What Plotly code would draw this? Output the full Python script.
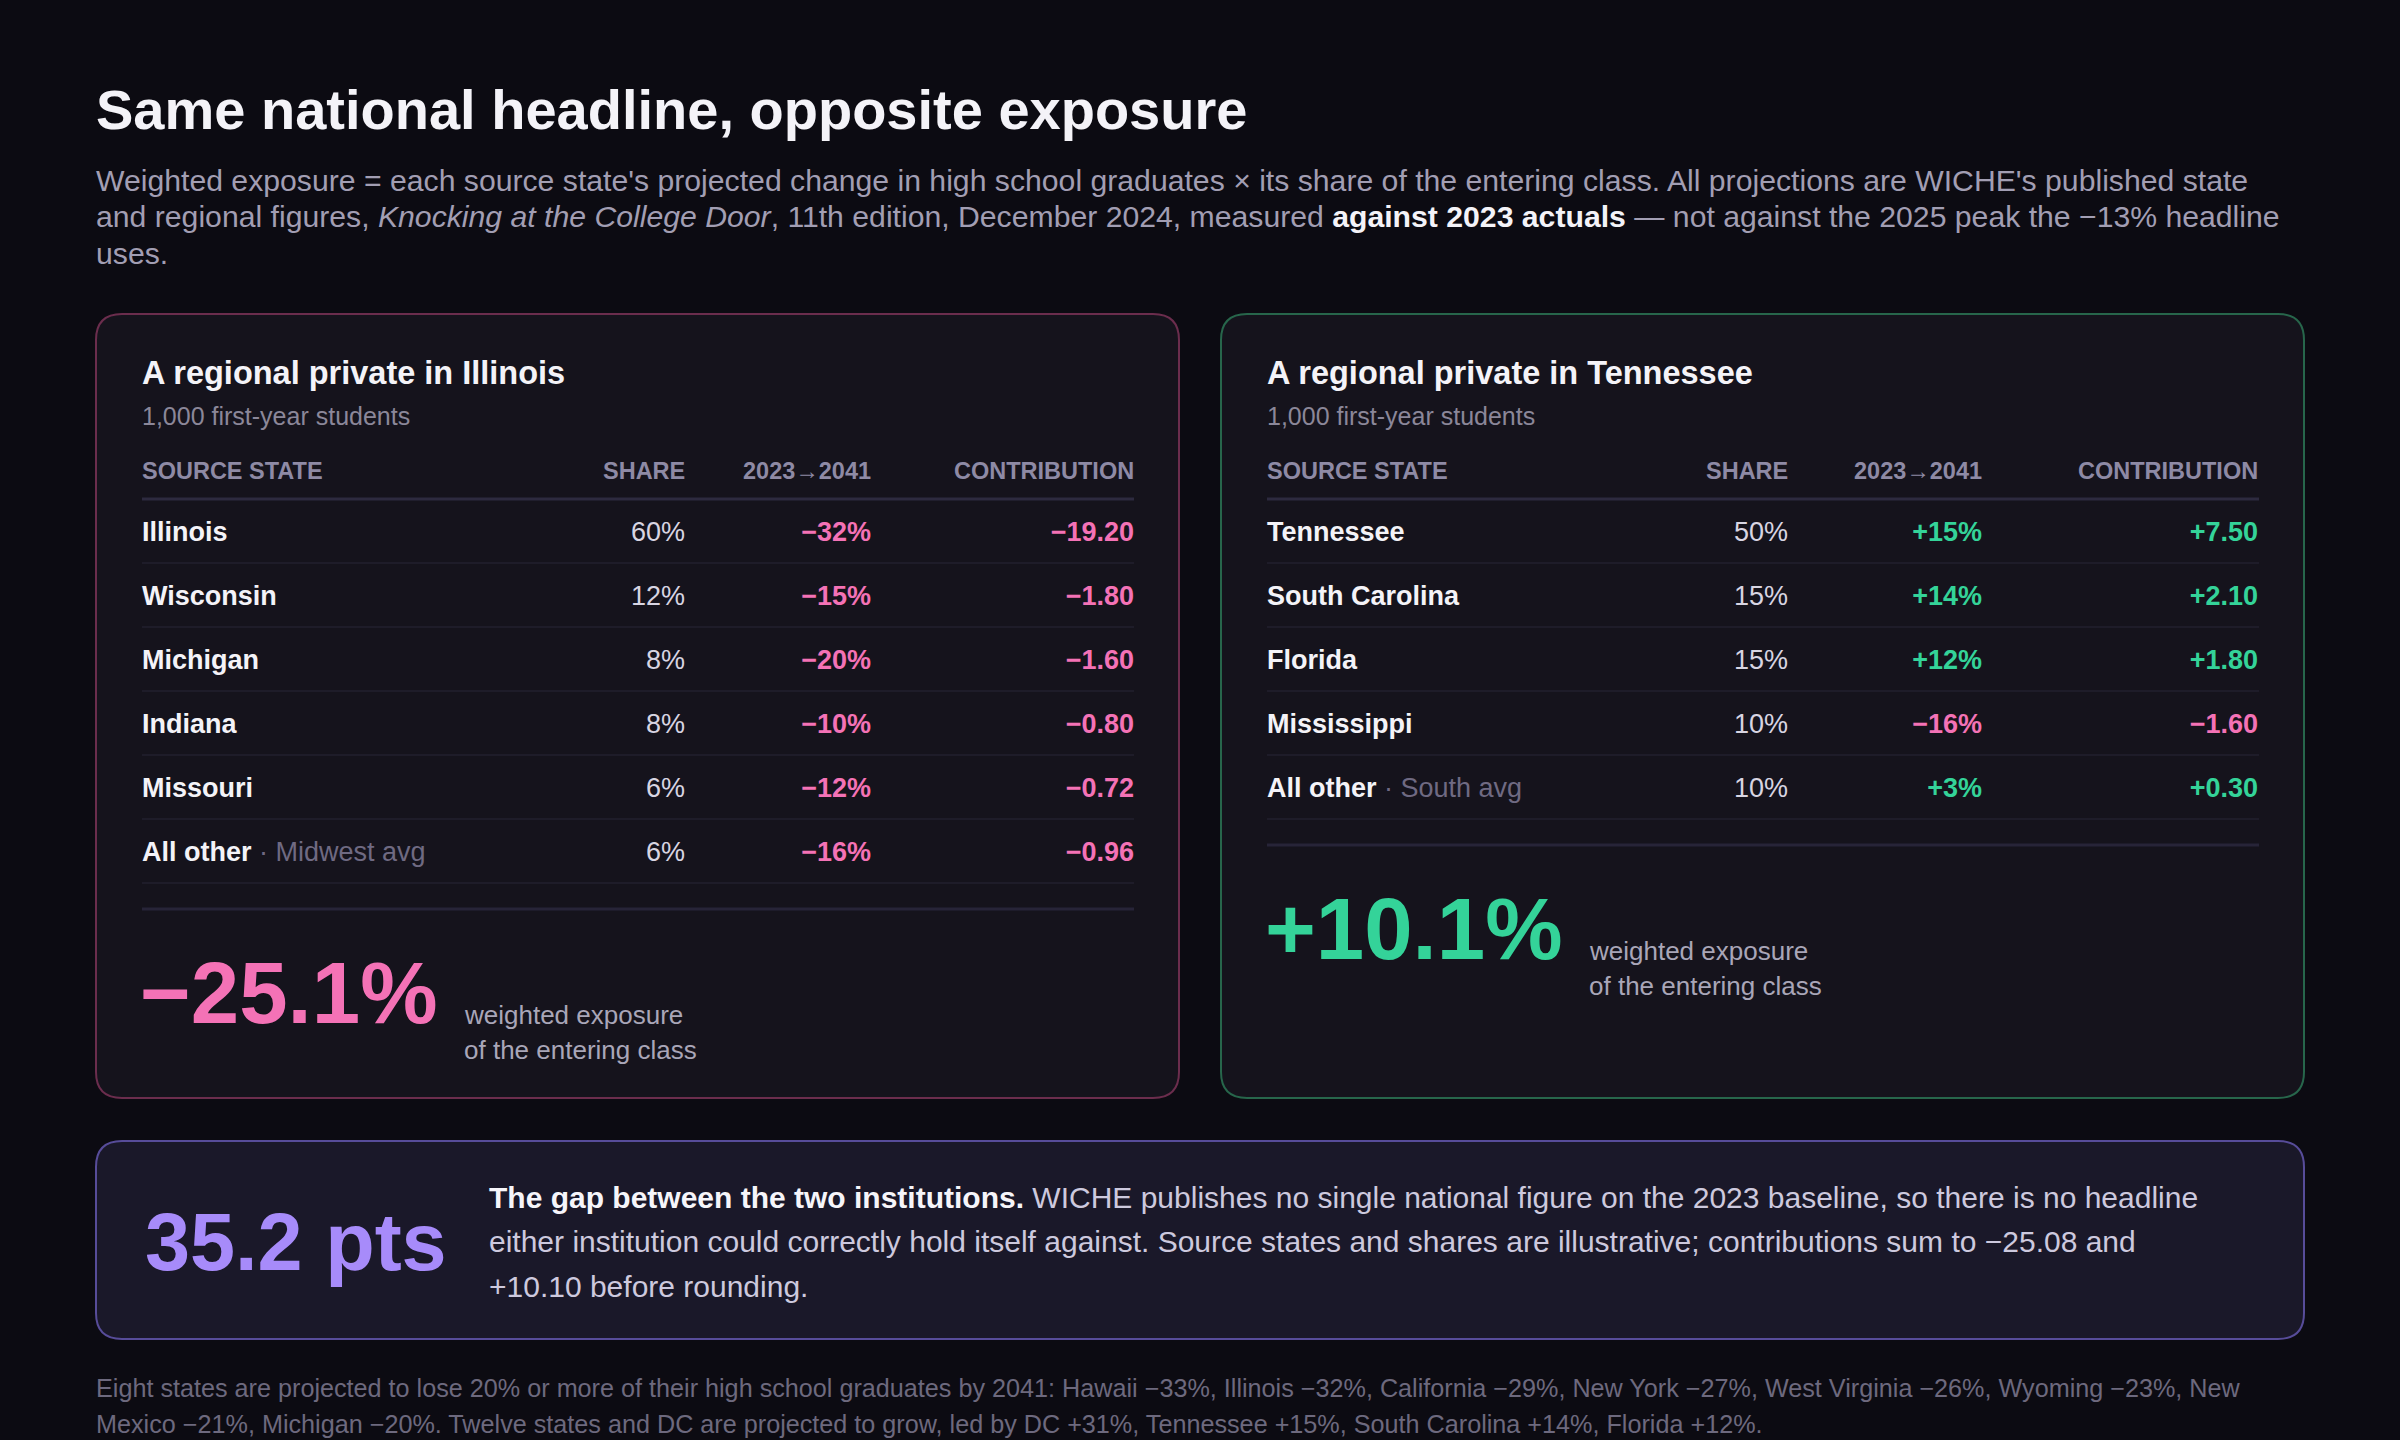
import plotly.graph_objects as go

# ---------------- data ----------------
il_states = ["Illinois", "Wisconsin", "Michigan", "Indiana", "Missouri", "All other"]
il_notes = ["", "", "", "", "", "Midwest avg"]
il_share = [60, 12, 8, 8, 6, 6]
il_change = [-32, -15, -20, -10, -12, -16]
il_contrib = [-19.20, -1.80, -1.60, -0.80, -0.72, -0.96]
il_total = -25.1

tn_states = ["Tennessee", "South Carolina", "Florida", "Mississippi", "All other"]
tn_notes = ["", "", "", "", "South avg"]
tn_share = [50, 15, 15, 10, 10]
tn_change = [15, 14, 12, -16, 3]
tn_contrib = [7.50, 2.10, 1.80, -1.60, 0.30]
tn_total = 10.1

gap_pts = 35.2

col_headers = ["SOURCE STATE", "SHARE", "2023\u21922041", "CONTRIBUTION"]

title = "Same national headline, opposite exposure"
subtitle_lines = [
    "Weighted exposure = each source state's projected change in high school graduates \u00d7 its share of the entering class. All projections are WICHE's published state",
    "and regional figures, <i>Knocking at the College Door</i>, 11th edition, December 2024, measured <span style='color:#f4f3f8'><b>against 2023 actuals</b></span> \u2014 not against the 2025 peak the \u221213% headline",
    "uses.",
]
gap_lines = [
    "<span style='color:#f6f5fa'><b>The gap between the two institutions.</b></span> WICHE publishes no single national figure on the 2023 baseline, so there is no headline",
    "either institution could correctly hold itself against. Source states and shares are illustrative; contributions sum to \u221225.08 and",
    "+10.10 before rounding.",
]
footer_lines = [
    "Eight states are projected to lose 20% or more of their high school graduates by 2041: Hawaii \u221233%, Illinois \u221232%, California \u221229%, New York \u221227%, West Virginia \u221226%, Wyoming \u221223%, New",
    "Mexico \u221221%, Michigan \u221220%. Twelve states and DC are projected to grow, led by DC +31%, Tennessee +15%, South Carolina +14%, Florida +12%.",
]

# ---------------- style ----------------
W, H = 2400, 1440
FONT = "Liberation Sans, Arial, Helvetica, sans-serif"
BG = "#0c0b12"
CARD_FILL = "#15131c"
PINK = "#f472b6"
GREEN = "#34d399"
VIOLET = "#a78bfa"
WHITE = "#f4f3f8"
MUTED = "#a29eb3"
HEAD = "#8e8aa5"
DIM = "#6f6a82"

fig = go.Figure()
shapes = []
anns = []


def minus(s):
    return s.replace("-", "\u2212")


def rrect(x0, y0, x1, y1, r, line, fill, lw=2):
    path = (f"M{x0+r},{y0} L{x1-r},{y0} Q{x1},{y0} {x1},{y0+r} L{x1},{y1-r} Q{x1},{y1} {x1-r},{y1} "
            f"L{x0+r},{y1} Q{x0},{y1} {x0},{y1-r} L{x0},{y0+r} Q{x0},{y0} {x0+r},{y0} Z")
    shapes.append(dict(type="path", path=path, xref="x", yref="y",
                       line=dict(color=line, width=lw), fillcolor=fill, layer="below"))


def hline(x0, x1, y, color, w):
    shapes.append(dict(type="line", x0=x0, x1=x1, y0=y, y1=y, xref="x", yref="y",
                       line=dict(color=color, width=w), layer="below"))


def text(x, y, s, size, color, anchor="left", weight="normal"):
    anns.append(dict(x=x, y=y, xref="x", yref="y", text=s, showarrow=False,
                     xanchor=anchor, yanchor="middle", align=anchor,
                     borderpad=0, borderwidth=0,
                     font=dict(size=size, color=color, family=FONT, weight=weight)))


def sign_color(v):
    return PINK if v < 0 else GREEN


# ---------------- page header ----------------
text(96, 109, title, 56, WHITE, weight="bold")
for i, ln in enumerate(subtitle_lines):
    text(96, 180 + 36.5 * i, ln, 30.2, MUTED)


# ---------------- cards ----------------
def card(x0, x1, border, name, states, notes, share, change, contrib, total, col_right):
    y0, y1 = 314, 1098
    rrect(x0, y0, x1, y1, 26, border, CARD_FILL, 2)
    cl = x0 + 46
    cr = x1 - 45
    text(cl, 373, f"<b>{name}</b>", 32.5, WHITE)
    text(cl, 416, "1,000 first-year students", 25, "#8b8799")
    # headers
    text(cl, 470.5, f"<b>{col_headers[0]}</b>", 23.5, HEAD)
    for h, xr in zip(col_headers[1:], col_right):
        text(xr, 470.5, f"<b>{h}</b>", 23.5, HEAD, anchor="right")
    head_y = 499
    pitch = 64
    hline(cl, cr, head_y, "#2d2a3f", 3)
    n = len(states)
    ys = [head_y + pitch * (i + 0.5) + 3 for i in range(n)]
    for i in range(n):
        hline(cl, cr, head_y + pitch * (i + 1), "#1e1c29", 2)
    labels = []
    for s, note in zip(states, notes):
        lab = f"<b>{s}</b>"
        if note:
            lab += f"<span style='color:{DIM}'> \u00b7 {note}</span>"
        labels.append(lab)
    fig.add_trace(go.Scatter(x=[cl] * n, y=ys, mode="text", text=labels, textposition="middle right",
                             textfont=dict(size=27, color=WHITE, family=FONT), hoverinfo="skip", showlegend=False))
    fig.add_trace(go.Scatter(x=[col_right[0]] * n, y=ys, mode="text", text=[f"{v}%" for v in share],
                             textposition="middle left",
                             textfont=dict(size=27, color="#d8d5e2", family=FONT), hoverinfo="skip", showlegend=False))
    fig.add_trace(go.Scatter(x=[col_right[1]] * n, y=ys, mode="text",
                             text=[minus(f"{v:+d}%") for v in change], textposition="middle left",
                             textfont=dict(size=27, color=[sign_color(v) for v in change], family=FONT, weight="bold"),
                             hoverinfo="skip", showlegend=False))
    fig.add_trace(go.Scatter(x=[col_right[2]] * n, y=ys, mode="text",
                             text=[minus(f"{v:+.2f}") for v in contrib], textposition="middle left",
                             textfont=dict(size=27, color=[sign_color(v) for v in contrib], family=FONT, weight="bold"),
                             hoverinfo="skip", showlegend=False))
    div_y = head_y + pitch * n + 26
    hline(cl, cr, div_y, "#272438", 3)
    text(cl - 2, div_y + 83, minus(f"{total:+.1f}%"), 87, sign_color(total), weight="bold")
    text(cl + 322, div_y + 106, "weighted exposure", 26, "#a9a6b8")
    text(cl + 322, div_y + 141, "of the entering class", 26, "#a9a6b8")


card(96, 1179, "#6b2d4d", "A regional private in Illinois", il_states, il_notes,
     il_share, il_change, il_contrib, il_total, [685, 871, 1134])
card(1221, 2304, "#27664b", "A regional private in Tennessee", tn_states, tn_notes,
     tn_share, tn_change, tn_contrib, tn_total, [1788, 1982, 2258])

# ---------------- gap panel ----------------
rrect(96, 1141, 2304, 1339, 26, "#574c99", "#1a1829", 2)
text(145, 1242, f"<b>{gap_pts:.1f} pts</b>", 81, VIOLET)
for i, ln in enumerate(gap_lines):
    text(489, 1197 + 44.5 * i, ln, 30, "#cdc9de")

# ---------------- footer ----------------
for i, ln in enumerate(footer_lines):
    text(96, 1388 + 35.5 * i, ln, 25.2, "#6d697e")

fig.update_layout(
    width=W, height=H,
    margin=dict(l=0, r=0, t=0, b=0),
    paper_bgcolor=BG, plot_bgcolor=BG,
    xaxis=dict(range=[0, W], visible=False, fixedrange=True),
    yaxis=dict(range=[H, 0], visible=False, fixedrange=True),
    shapes=shapes, annotations=anns,
    showlegend=False,
)

fig.write_html("out.html", config={"displayModeBar": False},
               post_script="document.body.style.margin='0';document.body.style.overflow='hidden';document.body.style.background='#0c0b12';")
